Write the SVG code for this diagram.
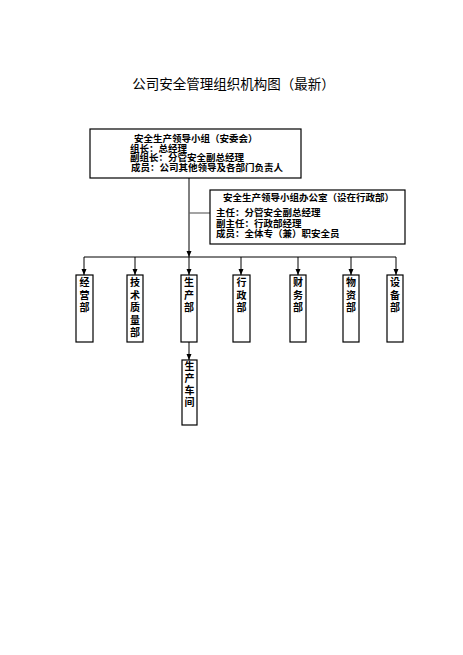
<svg xmlns="http://www.w3.org/2000/svg" width="463" height="655" viewBox="0 0 463 655">
<style>
.t{font-family:"Noto Sans CJK SC","Noto Sans",sans-serif;fill:#000}
.b{font-weight:bold;font-size:9.5px}
.v{font-weight:bold;font-size:10px;text-anchor:middle}
.box{fill:#fff;stroke:#000;stroke-width:1.2}
.ln{stroke:#000;stroke-width:1;fill:none}
</style>
<defs>
<marker id="ah" viewBox="0 0 6 6" refX="6" refY="3" markerWidth="6" markerHeight="6" markerUnits="userSpaceOnUse" orient="auto">
<path d="M0,0.5 L6,3 L0,5.5 Z" fill="#000"/>
</marker>
</defs>
<rect width="463" height="655" fill="#fff"/>
<text class="t" x="233.5" y="89" font-size="13.5" text-anchor="middle">公司安全管理组织机构图（最新）</text>
<g id="connectors">
<line class="ln" x1="189" y1="178" x2="189" y2="257" marker-end="url(#ah)"/>
<line x1="189" y1="213" x2="210" y2="213" stroke="#666" stroke-width="1.2"/>
<line class="ln" x1="84" y1="257" x2="396" y2="257"/>
<line class="ln" x1="84" y1="257" x2="84" y2="275" marker-end="url(#ah)"/>
<line class="ln" x1="135" y1="257" x2="135" y2="275" marker-end="url(#ah)"/>
<line class="ln" x1="189" y1="257" x2="189" y2="275" marker-end="url(#ah)"/>
<line class="ln" x1="241" y1="257" x2="241" y2="275" marker-end="url(#ah)"/>
<line class="ln" x1="298" y1="257" x2="298" y2="275" marker-end="url(#ah)"/>
<line class="ln" x1="351" y1="257" x2="351" y2="275" marker-end="url(#ah)"/>
<line class="ln" x1="396" y1="257" x2="396" y2="275" marker-end="url(#ah)"/>
<line class="ln" x1="189" y1="342" x2="189" y2="360" marker-end="url(#ah)"/>
</g>
<g id="leader">
<rect class="box" x="90" y="129" width="211" height="49"/>
<text class="t b" x="134" y="142">安全生产领导小组（安委会）</text>
<text class="t b" x="130" y="152">组长：总经理</text>
<text class="t b" x="130" y="161">副组长：分管安全副总经理</text>
<text class="t b" x="131" y="170.5">成员：公司其他领导及各部门负责人</text>
</g>
<g id="office">
<rect class="box" x="210" y="190" width="195" height="54"/>
<text class="t b" x="223" y="200.5">安全生产领导小组办公室（设在行政部）</text>
<text class="t b" x="216" y="215.5">主任：分管安全副总经理</text>
<text class="t b" x="216" y="226.5">副主任：行政部经理</text>
<text class="t b" x="216" y="237">成员：全体专（兼）职安全员</text>
</g>
<g id="d1">
<rect class="box" x="76" y="275" width="17" height="67"/>
<text class="t v" x="84.5" y="286">经</text><text class="t v" x="84.5" y="298.5">营</text><text class="t v" x="84.5" y="310.5">部</text>
</g>
<g id="d2">
<rect class="box" x="127" y="275" width="16" height="67"/>
<text class="t v" x="135" y="286">技</text><text class="t v" x="135" y="298.5">术</text><text class="t v" x="135" y="311">质</text><text class="t v" x="135" y="323.5">量</text><text class="t v" x="135" y="335.5">部</text>
</g>
<g id="d3">
<rect class="box" x="181" y="275" width="16" height="67"/>
<text class="t v" x="189" y="286">生</text><text class="t v" x="189" y="298.5">产</text><text class="t v" x="189" y="310.5">部</text>
</g>
<g id="d4">
<rect class="box" x="233" y="275" width="17" height="67"/>
<text class="t v" x="241.5" y="286">行</text><text class="t v" x="241.5" y="298.5">政</text><text class="t v" x="241.5" y="310.5">部</text>
</g>
<g id="d5">
<rect class="box" x="290" y="275" width="16" height="67"/>
<text class="t v" x="298" y="286">财</text><text class="t v" x="298" y="298.5">务</text><text class="t v" x="298" y="310.5">部</text>
</g>
<g id="d6">
<rect class="box" x="343" y="275" width="16" height="67"/>
<text class="t v" x="351" y="286">物</text><text class="t v" x="351" y="298.5">资</text><text class="t v" x="351" y="310.5">部</text>
</g>
<g id="d7">
<rect class="box" x="387" y="275" width="16" height="67"/>
<text class="t v" x="395" y="286">设</text><text class="t v" x="395" y="298.5">备</text><text class="t v" x="395" y="310.5">部</text>
</g>
<g id="workshop">
<rect class="box" x="182" y="360" width="15" height="65"/>
<text class="t v" x="189.5" y="370">生</text><text class="t v" x="189.5" y="382">产</text><text class="t v" x="189.5" y="394">车</text><text class="t v" x="189.5" y="406">间</text>
</g>
</svg>
